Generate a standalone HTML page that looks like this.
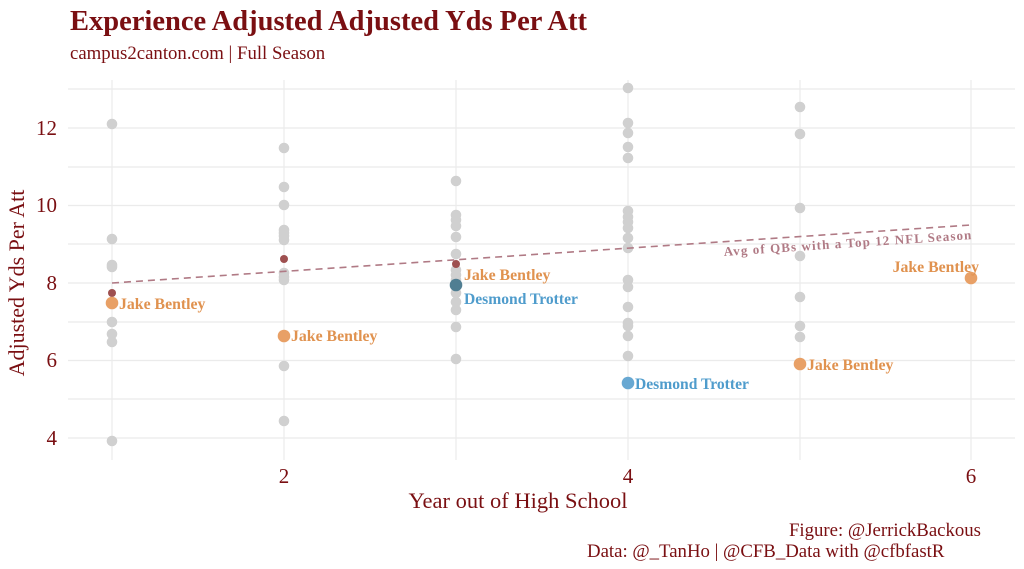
<!DOCTYPE html>
<html><head><meta charset="utf-8"><style>
html,body{margin:0;padding:0;background:#fff;}
svg{display:block;font-family:"Liberation Serif",serif;}
</style></head><body>
<svg width="1024" height="569" viewBox="0 0 1024 569" xmlns="http://www.w3.org/2000/svg">
<rect width="1024" height="569" fill="#fff"/>
<text x="70" y="30" font-size="28.5" font-weight="bold" fill="#7a0f12">Experience Adjusted Adjusted Yds Per Att</text>
<text x="70" y="59" font-size="18.8" fill="#7a0f12">campus2canton.com | Full Season</text>
<g stroke="#ebebeb" stroke-width="1.2">
<line x1="68" x2="1015" y1="89" y2="89"/><line x1="68" x2="1015" y1="128" y2="128"/>
<line x1="68" x2="1015" y1="167" y2="167"/><line x1="68" x2="1015" y1="205.5" y2="205.5"/>
<line x1="68" x2="1015" y1="244" y2="244"/><line x1="68" x2="1015" y1="283" y2="283"/>
<line x1="68" x2="1015" y1="322" y2="322"/><line x1="68" x2="1015" y1="360.5" y2="360.5"/>
<line x1="68" x2="1015" y1="399" y2="399"/><line x1="68" x2="1015" y1="438" y2="438"/>
<line x1="112" x2="112" y1="80" y2="460"/><line x1="284" x2="284" y1="80" y2="460"/>
<line x1="456" x2="456" y1="80" y2="460"/><line x1="628" x2="628" y1="80" y2="460"/>
<line x1="800" x2="800" y1="80" y2="460"/><line x1="971" x2="971" y1="80" y2="460"/>
</g>
<g fill="#7a0f12" font-size="21" text-anchor="end">
<text x="57" y="135">12</text><text x="57" y="212">10</text><text x="57" y="290">8</text><text x="57" y="367">6</text><text x="57" y="445">4</text>
</g>
<text transform="translate(24,283) rotate(-90)" font-size="22" fill="#7a0f12" text-anchor="middle">Adjusted Yds Per Att</text>
<g fill="#7a0f12" font-size="21" text-anchor="middle">
<text x="284" y="483">2</text><text x="628" y="483">4</text><text x="971" y="483">6</text>
</g>
<text x="518" y="508" font-size="22.5" fill="#7a0f12" text-anchor="middle">Year out of High School</text>
<text x="981" y="536" font-size="18.8" fill="#7a0f12" text-anchor="end">Figure: @JerrickBackous</text>
<text x="587" y="557" font-size="18.8" fill="#7a0f12">Data: @_TanHo | @CFB_Data with @cfbfastR</text>
<g fill="#d0d0d0">
<circle cx="112" cy="124" r="5.3"/><circle cx="112" cy="239" r="5.3"/><circle cx="112" cy="265" r="5.3"/><circle cx="112" cy="267" r="5.3"/><circle cx="112" cy="322" r="5.3"/><circle cx="112" cy="334" r="5.3"/><circle cx="112" cy="342" r="5.3"/><circle cx="112" cy="441" r="5.3"/>
<circle cx="284" cy="148" r="5.3"/><circle cx="284" cy="187" r="5.3"/><circle cx="284" cy="205" r="5.3"/><circle cx="284" cy="230" r="5.3"/><circle cx="284" cy="233" r="5.3"/><circle cx="284" cy="236" r="5.3"/><circle cx="284" cy="240" r="5.3"/><circle cx="284" cy="273" r="5.3"/><circle cx="284" cy="277" r="5.3"/><circle cx="284" cy="280" r="5.3"/><circle cx="284" cy="366" r="5.3"/><circle cx="284" cy="421" r="5.3"/>
<circle cx="456" cy="181" r="5.3"/><circle cx="456" cy="215" r="5.3"/><circle cx="456" cy="220" r="5.3"/><circle cx="456" cy="226" r="5.3"/><circle cx="456" cy="237" r="5.3"/><circle cx="456" cy="254" r="5.3"/><circle cx="456" cy="270" r="5.3"/><circle cx="456" cy="275" r="5.3"/><circle cx="456" cy="280" r="5.3"/><circle cx="456" cy="293" r="5.3"/><circle cx="456" cy="302" r="5.3"/><circle cx="456" cy="310" r="5.3"/><circle cx="456" cy="327" r="5.3"/><circle cx="456" cy="359" r="5.3"/>
<circle cx="628" cy="88" r="5.3"/><circle cx="628" cy="123" r="5.3"/><circle cx="628" cy="133" r="5.3"/><circle cx="628" cy="147" r="5.3"/><circle cx="628" cy="158" r="5.3"/><circle cx="628" cy="211" r="5.3"/><circle cx="628" cy="217" r="5.3"/><circle cx="628" cy="222" r="5.3"/><circle cx="628" cy="228" r="5.3"/><circle cx="628" cy="238" r="5.3"/><circle cx="628" cy="248" r="5.3"/><circle cx="628" cy="280" r="5.3"/><circle cx="628" cy="287" r="5.3"/><circle cx="628" cy="307" r="5.3"/><circle cx="628" cy="323" r="5.3"/><circle cx="628" cy="326" r="5.3"/><circle cx="628" cy="336" r="5.3"/><circle cx="628" cy="356" r="5.3"/>
<circle cx="800" cy="107" r="5.3"/><circle cx="800" cy="134" r="5.3"/><circle cx="800" cy="208" r="5.3"/><circle cx="800" cy="256" r="5.3"/><circle cx="800" cy="297" r="5.3"/><circle cx="800" cy="326" r="5.3"/><circle cx="800" cy="337" r="5.3"/>
</g>
<line x1="112" y1="283" x2="971" y2="225" stroke="#b07a85" stroke-width="1.6" stroke-dasharray="7,5"/>
<text transform="translate(724,256) rotate(-3.9)" font-size="13" font-weight="bold" fill="#b07a85" letter-spacing="1.1">Avg of QBs with a Top 12 NFL Season</text>
<g fill="#9e5050">
<circle cx="112" cy="293" r="4"/><circle cx="284" cy="259" r="4"/><circle cx="456" cy="264" r="4"/>
</g>
<g fill="#e8a066">
<circle cx="112" cy="303" r="6.3"/><circle cx="284" cy="336" r="6.3"/><circle cx="800" cy="364" r="6.3"/><circle cx="971" cy="278" r="6.3"/>
</g>
<circle cx="456" cy="285" r="6.3" fill="#507e92"/>
<circle cx="628" cy="383" r="6.3" fill="#68a8d2"/>
<g font-size="15.8" font-weight="bold" fill="#e0924f">
<text x="119" y="309">Jake Bentley</text>
<text x="291" y="341">Jake Bentley</text>
<text x="464" y="280">Jake Bentley</text>
<text x="807" y="370">Jake Bentley</text>
<text x="979" y="272" text-anchor="end">Jake Bentley</text>
</g>
<g font-size="15.6" font-weight="bold" fill="#4f9ccc">
<text x="464" y="304">Desmond Trotter</text>
<text x="635" y="389">Desmond Trotter</text>
</g>
</svg>
</body></html>
